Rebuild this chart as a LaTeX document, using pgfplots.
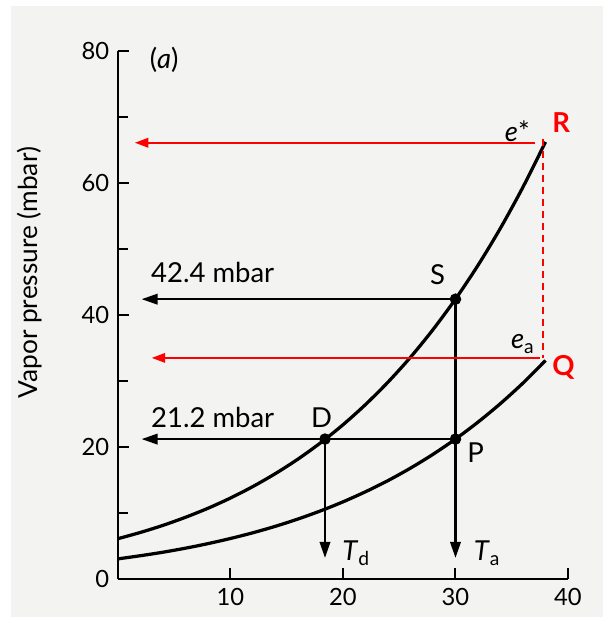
\documentclass[border=0pt]{standalone}
\usepackage{fontspec}
\setmainfont{Lato}
\usepackage{pgfplots}
\pgfplotsset{compat=1.18}
\usetikzlibrary{arrows.meta}
\definecolor{paper}{RGB}{243,243,242}
\definecolor{hot}{RGB}{255,0,0}

\begin{document}
\begin{tikzpicture}[
    lbl/.style={font=\fontsize{11}{13}\selectfont},
    blk/.style={black, line width=0.85pt, -{Triangle[length=6.4pt,width=4.2pt]}},
    redarr/.style={hot, line width=0.8pt, -{Triangle[length=5.4pt,width=3.8pt]}},
]
\fill[paper] (-42.8pt,-15.2pt) rectangle (194pt,229.2pt);
\begin{axis}[
    at={(0pt,0pt)}, anchor=south west,
    scale only axis,
    width=180pt, height=211.2pt,
    xmin=0, xmax=40, ymin=0, ymax=80,
    axis lines=left,
    axis line style={-, line width=0.8pt},
    tick align=inside,
    xtick={10,20,30,40},
    ytick={0,20,40,60,80},
    minor ytick={10,30,50,70},
    major tick length=4.5pt, minor tick length=4pt,
    tick style={black, line width=0.8pt},
    /pgf/number format/assume math mode=true,
    tick label style={font=\fontsize{9.5}{10}\selectfont},
    ylabel={Vapor pressure (mbar)},
    ylabel style={at={(axis description cs:-0.196,0.58)}, anchor=center,
        font=\fontsize{10.5}{12}\selectfont},
    clip=false,
]
% saturation vapour pressure e*
\addplot[black, line width=1.3pt, smooth] coordinates {
    (0,6.11) (2,7.06) (4,8.13) (6,9.35) (8,10.72) (10,12.27) (12,14.02)
    (14,15.98) (16,18.17) (18,20.63) (20,23.37) (22,26.43) (24,29.83)
    (26,33.60) (28,37.79) (30,42.42) (32,47.53) (34,53.17) (36,59.39)
    (38,66.22)
};
% actual vapour pressure e_a
\addplot[black, line width=1.3pt, smooth] coordinates {
    (0,3.05) (2,3.53) (4,4.06) (6,4.67) (8,5.36) (10,6.14) (12,7.01)
    (14,7.99) (16,9.09) (18,10.32) (20,11.69) (22,13.22) (24,14.91)
    (26,16.80) (28,18.89) (30,21.21) (32,23.77) (34,26.59) (36,29.69)
    (38,33.11)
};
\addplot[blk] coordinates {(30,42.4) (2.1,42.4)};
\addplot[blk] coordinates {(30,21.2) (2.1,21.2)};
\addplot[blk] coordinates {(30,42.4) (30,3.2)};
\addplot[blk] coordinates {(18.4,21.2) (18.4,3.2)};
\addplot[only marks, mark=*, mark size=2.1pt, black] coordinates {
    (30,42.4) (30,21.2) (18.4,21.2)
};
% red overlay
\addplot[redarr] coordinates {(37.1,66.1) (1.5,66.1)};
\addplot[redarr] coordinates {(37.5,33.5) (3.0,33.5)};
\addplot[hot, line width=0.8pt, dash pattern=on 2.8pt off 2pt] coordinates {
    (37.8,66.6) (37.8,33.5)
};

\node[lbl, anchor=west, inner sep=0pt] at (axis cs:2.9,46.4) {42.4 mbar};
\node[lbl, anchor=west, inner sep=0pt] at (axis cs:2.9,24.5) {21.2 mbar};
\node[lbl] at (axis cs:28.4,46.1) {S};
\node[lbl] at (axis cs:18.1,24.5) {D};
\node[lbl] at (axis cs:31.8,19.2) {P};
\node[lbl, anchor=west, inner sep=0pt] at (axis cs:19.9,3.9) {\textit{T}\textsubscript{d}};
\node[lbl, anchor=west, inner sep=0pt] at (axis cs:31.6,3.9) {\textit{T}\textsubscript{a}};
\node[lbl] at (axis cs:35.5,67.8) {\textit{e}*};
\node[lbl] at (axis cs:36.0,35.6) {\textit{e}\textsubscript{a}};
\node[lbl] at (axis cs:4.1,78.6) {(\textit{a})};
\node[hot, font=\fontsize{11}{12}\selectfont\bfseries] at (axis cs:39.4,69.2) {R};
\node[hot, font=\fontsize{11}{12}\selectfont\bfseries] at (axis cs:39.6,32.0) {Q};
\end{axis}
\pgfresetboundingbox
\path (-47.2pt,-18.4pt) rectangle (194.8pt,231.6pt);
\end{tikzpicture}
\end{document}
